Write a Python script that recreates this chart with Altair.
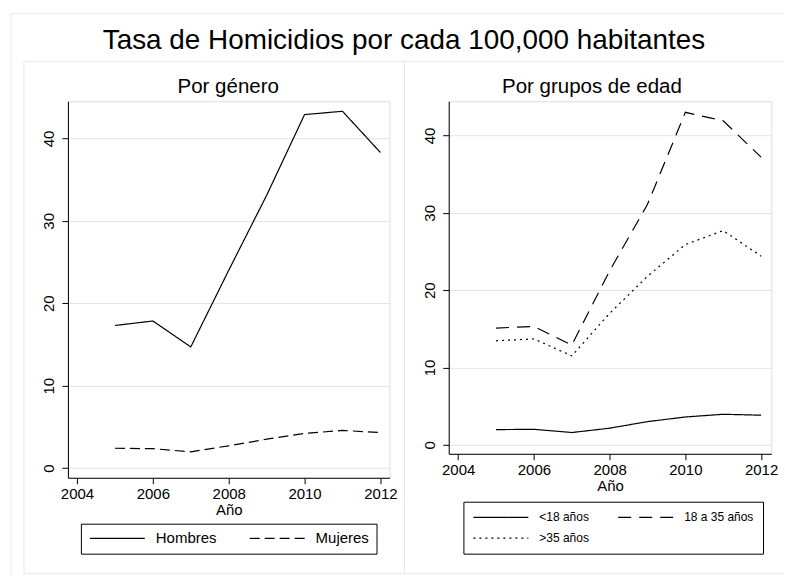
import altair as alt
import pandas as pd

# ---------------- data ----------------
years = [2005, 2006, 2007, 2008, 2009, 2010, 2011, 2012]

hombres = [17.3, 17.85, 14.7, 24.0, 33.1, 42.9, 43.3, 38.3]
mujeres = [2.4, 2.35, 1.97, 2.7, 3.5, 4.2, 4.56, 4.32]

menor18 = [1.97, 2.0, 1.59, 2.15, 3.0, 3.6, 3.95, 3.83]
de18a35 = [15.1, 15.3, 12.9, 22.5, 31.1, 43.0, 41.9, 37.2]
mayor35 = [13.45, 13.7, 11.5, 17.0, 21.8, 25.9, 27.7, 24.4]

gen_names = ["Hombres", "Mujeres"]
age_names = ["<18 años", "18 a 35 años", ">35 años"]

x_ticks = [2004, 2006, 2008, 2010, 2012]
y_ticks = [0, 10, 20, 30, 40]

main_title = "Tasa de Homicidios por cada 100,000 habitantes"
sub_left = "Por género"
sub_right = "Por grupos de edad"
x_title = "Año"

# ---------------- tables ----------------
df_gen = pd.DataFrame({
    "year": years * 2,
    "value": hombres + mujeres,
    "serie": [gen_names[0]] * len(years) + [gen_names[1]] * len(years),
})
df_age = pd.DataFrame({
    "year": years * 3,
    "value": menor18 + de18a35 + mayor35,
    "serie": [age_names[0]] * len(years) + [age_names[1]] * len(years) + [age_names[2]] * len(years),
})

FONT = "Liberation Sans"
FRAME = "#e8e8e8"
GRID = "#e4e4e4"
# long horizontal legend stroke drawn from a small layout symbol
LEG_PATH = "M-1,0H9"


def y_axis():
    return alt.Axis(values=y_ticks, title=None, grid=True, gridColor=GRID, gridWidth=1,
                    labelAngle=270, labelAlign="center", labelBaseline="alphabetic",
                    labelPadding=8, tickSize=6, tickColor="black", domainColor="black",
                    labelFontSize=15, labelColor="black", labelFont=FONT)


def x_axis():
    return alt.Axis(values=x_ticks, format="d", title=x_title, grid=False,
                    tickSize=6, tickColor="black", domainColor="black",
                    labelFontSize=15, labelColor="black", labelFont=FONT, labelPadding=2.5,
                    titleFontSize=15, titleFontWeight="normal", titleColor="black",
                    titleFont=FONT, titlePadding=1, labelFlush=False)


def seg(x1, x2, y1, y2):
    return alt.Chart(alt.Data(values=[{"k": 1}])).mark_rule(
        color=FRAME, strokeWidth=1).encode(
        x=alt.value(x1), x2=alt.value(x2), y=alt.value(y1), y2=alt.value(y2))


def label(text, x, y, size):
    return alt.Chart(alt.Data(values=[{"t": text}])).mark_text(
        font=FONT, fontSize=size, color="black", align="center",
        baseline="alphabetic").encode(text="t:N", x=alt.value(x), y=alt.value(y))


# ---------------- left panel: por género ----------------
lines_gen = alt.Chart(df_gen).mark_line(color="black", strokeWidth=1.2).encode(
    x=alt.X("year:Q", scale=alt.Scale(domain=[2003.76, 2012.24], nice=False, zero=False),
            axis=x_axis()),
    y=alt.Y("value:Q", scale=alt.Scale(domain=[-1.18, 44.52], nice=False, zero=False),
            axis=y_axis()),
    strokeDash=alt.StrokeDash(
        "serie:N",
        scale=alt.Scale(domain=gen_names, range=[[1, 0], [10, 5]]),
        legend=alt.Legend(orient="none", legendX=13, legendY=423, direction="horizontal",
                          columns=2, title=None, strokeColor="black", padding=7,
                          symbolType=LEG_PATH, symbolSize=121, symbolStrokeWidth=1.2,
                          symbolStrokeColor="black", symbolFillColor="transparent",
                          labelFontSize=15, labelFont=FONT,
                          labelColor="black", labelOffset=53, columnPadding=30),
    ),
)

# frames (graph region borders) and titles, in left-panel pixel coordinates
frames = [
    seg(-57, -57, -88, 475),   # outer frame left
    seg(-57, 717, -88, -88),   # outer frame top
    seg(-44, -44, -40, 473),   # left panel left
    seg(-44, 717, -40, -40),   # panels top
    seg(-44, 717, 473, 473),   # panels bottom
    seg(337, 337, -40, 473),   # divider
]

left = alt.layer(
    *frames,
    lines_gen,
    label(main_title, 336.5, -52, 27.9),
    label(sub_left, 160.5, -8.3, 20.5),
).properties(width=322, height=377)

# ---------------- right panel: por grupos de edad ----------------
lines_age = alt.Chart(df_age).mark_line(color="black", strokeWidth=1.2).encode(
    x=alt.X("year:Q", scale=alt.Scale(domain=[2003.75, 2012.27], nice=False, zero=False),
            axis=x_axis()),
    y=alt.Y("value:Q", scale=alt.Scale(domain=[-1.16, 44.43], nice=False, zero=False),
            axis=y_axis()),
    strokeDash=alt.StrokeDash(
        "serie:N",
        scale=alt.Scale(domain=age_names, range=[[1, 0], [13, 8], [2, 4]]),
        legend=alt.Legend(orient="none", legendX=14.7, legendY=401, direction="horizontal",
                          columns=2, title=None, strokeColor="black", padding=9,
                          symbolType=LEG_PATH, symbolSize=121, symbolStrokeWidth=1.2,
                          symbolStrokeColor="black", symbolFillColor="transparent",
                          labelFontSize=12, labelFont=FONT,
                          labelColor="black", labelOffset=54, columnPadding=26,
                          rowPadding=8),
    ),
)

right = alt.layer(
    lines_age,
    label(sub_right, 143.4, -8.3, 20.5),
).properties(width=323, height=353)

chart = alt.hconcat(left, right, spacing=59.3, bounds="flush").resolve_scale(
    strokeDash="independent", x="independent", y="independent"
).resolve_legend(strokeDash="independent").properties(
    padding={"left": 10, "top": 12, "right": 0, "bottom": 0}
).configure_view(stroke=None).configure(background="white")

chart.save("out.html", embed_options={"renderer": "svg", "actions": False})
